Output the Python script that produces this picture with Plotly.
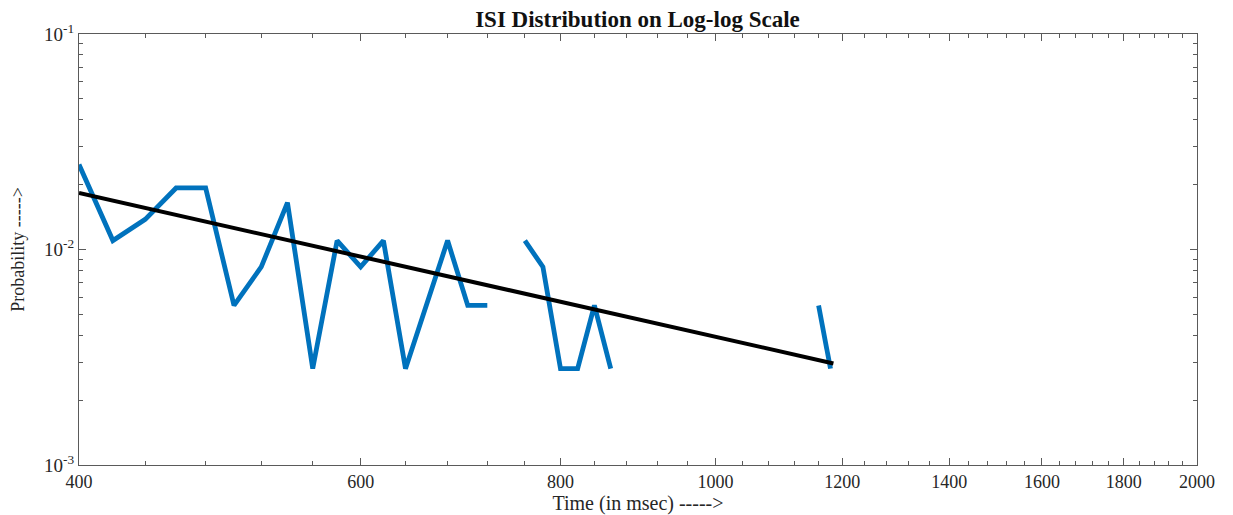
import plotly.graph_objects as go

# ISI histogram (probability) on log-log scale; None = empty bin (not drawable on log axis)
isi_time = [400, 420, 440, 460, 480, 500, 520, 540, 560, 580, 600, 620, 640, 660, 680,
            700, 720, 740, 760, 780, 800, 820, 840, 860, 880, 900, 920, 940, 960, 980,
            1000, 1020, 1040, 1060, 1080, 1100, 1120, 1140, 1160, 1180]
isi_prob = [0.0248, 0.0110, 0.0138, 0.0193, 0.0193, 0.0055, 0.0083, 0.0165, 0.0028, 0.0110,
            0.0083, 0.0110, 0.0028, 0.0055, 0.0110, 0.0055, 0.0055, None, 0.0110, 0.0083,
            0.0028, 0.0028, 0.0055, 0.0028, None, None, None, None, None, None,
            None, None, None, None, None, None, None, None, 0.0055, 0.0028]

# Power-law fit line endpoints
fit_time = [400, 1185]
fit_prob = [0.0183, 0.00296]

x_major = [400, 600, 800, 1000, 1200, 1400, 1600, 1800, 2000]
x_major_text = ["400", "600", "800", "1000", "1200", "1400", "1600", "1800", "2000"]
x_minor = [v for v in range(440, 2000, 40) if v % 200 != 0]
y_major = [0.001, 0.01, 0.1]
y_major_text = ["10<sup>-3</sup>", "10<sup>-2</sup>", "10<sup>-1</sup>"]
y_minor = [m * 1e-3 for m in range(2, 10)] + [m * 1e-2 for m in range(2, 10)]

FONT = "Liberation Serif, Times New Roman, serif"
AX = "#5a5a5a"
TXT = "#262626"

fig = go.Figure()
fig.add_trace(go.Scatter(x=isi_time, y=isi_prob, mode="lines", connectgaps=False,
                         line=dict(color="#0072BD", width=4.8), showlegend=False))
fig.add_trace(go.Scatter(x=fit_time, y=fit_prob, mode="lines",
                         line=dict(color="#000000", width=4), showlegend=False))

fig.update_layout(
    width=1233, height=515,
    margin=dict(l=79, r=36, t=34, b=50),
    paper_bgcolor="white", plot_bgcolor="white",
    font=dict(family=FONT, size=19, color=TXT),
    title=dict(text="<b>ISI Distribution on Log-log Scale</b>", x=0.517, xanchor="center",
               y=0.963, yanchor="middle", font=dict(family=FONT, size=23, color="#111")),
)
fig.update_xaxes(
    type="log", range=[2.60206, 3.30103],
    tickmode="array", tickvals=x_major, ticktext=x_major_text,
    ticks="inside", ticklen=7, tickwidth=1, tickcolor=AX,
    minor=dict(tickmode="array", tickvals=x_minor, ticks="inside", ticklen=4,
               tickwidth=1, tickcolor=AX, showgrid=False),
    showline=True, linecolor=AX, linewidth=1.3, mirror="ticks",
    showgrid=False, zeroline=False, automargin=False,
    tickfont=dict(family=FONT, size=18, color=TXT),
    title=dict(text="Time (in msec) ----->", standoff=3,
               font=dict(family=FONT, size=20, color=TXT)),
)
fig.update_yaxes(
    type="log", range=[-3, -1],
    tickmode="array", tickvals=y_major, ticktext=y_major_text,
    ticks="inside", ticklen=7, tickwidth=1, tickcolor=AX,
    minor=dict(tickmode="array", tickvals=y_minor, ticks="inside", ticklen=4,
               tickwidth=1, tickcolor=AX, showgrid=False),
    showline=True, linecolor=AX, linewidth=1.3, mirror="ticks",
    showgrid=False, zeroline=False, automargin=False,
    tickfont=dict(family=FONT, size=19, color=TXT),
    title=dict(text="Probability ----->", standoff=14,
               font=dict(family=FONT, size=18, color=TXT)),
)

fig.write_html("out.html")
